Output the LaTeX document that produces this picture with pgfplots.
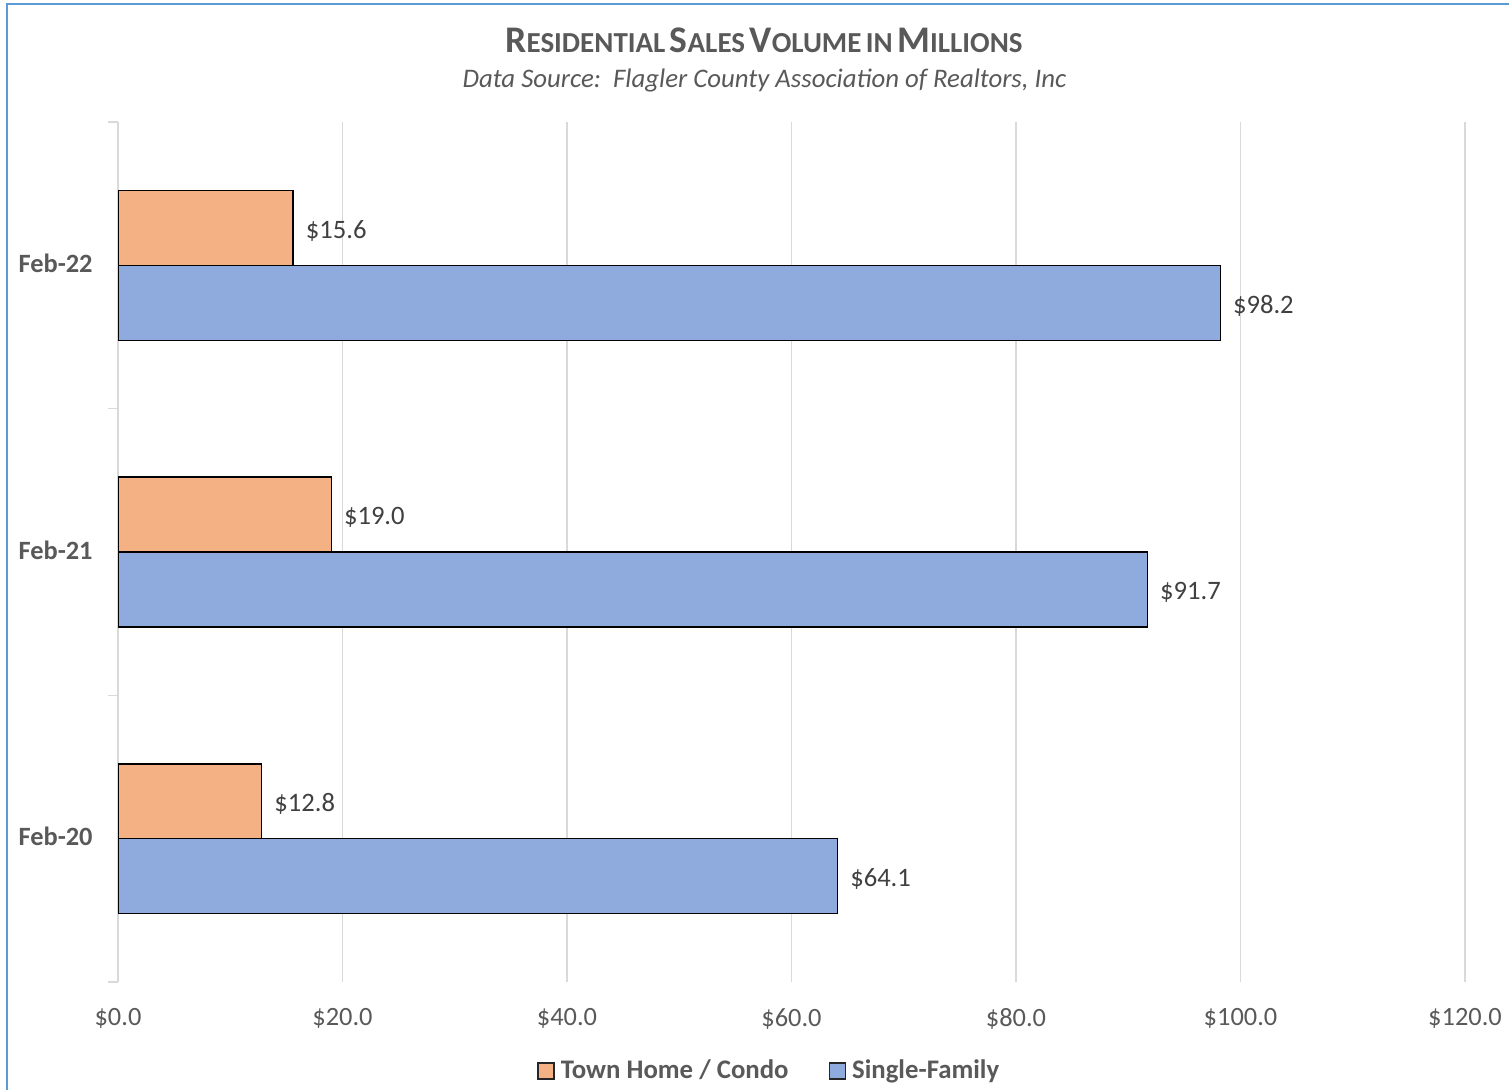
\documentclass[border=0pt]{standalone}
\usepackage{pgfplots}
\pgfplotsset{compat=1.18}
\usepackage{fontspec}
\setmainfont{Carlito}
\definecolor{orangeF}{HTML}{F4B183}
\definecolor{blueF}{HTML}{8FAADC}
\definecolor{txt}{HTML}{595959}
\definecolor{lbl}{HTML}{404040}
\definecolor{gridc}{HTML}{D9D9D9}
\definecolor{framec}{HTML}{5B9BD5}
\newcommand{\fsc}[2]{{\fontsize{18.8}{20}\selectfont #1}{\fontsize{14.5}{16}\selectfont #2}}
\begin{document}
\begin{tikzpicture}
\path[use as bounding box] (0,0) rectangle (754.5pt,544.5pt);
\begin{axis}[
  at={(59pt,53.5pt)}, anchor=south west,
  scale only axis, width=673.5pt, height=430pt,
  xbar, xmin=0, xmax=120, ymin=-0.5, ymax=2.5,
  bar width=0.2613,
  ytick={0,1,2}, yticklabels={Feb-20,Feb-21,Feb-22},
  minor ytick={-0.5,0.5,1.5,2.5},
  xtick={0,20,...,120},
  xticklabels={\$0.0,\$20.0,\$40.0,\$60.0,\$80.0,\$100.0,\$120.0},
  xmajorgrids, major grid style={draw=gridc, line width=0.75pt},
  axis line style={draw=none},
  tick pos=left, tick align=outside,
  major tick length=0pt, minor tick length=5pt,
  minor tick style={draw=gridc, line width=0.75pt},
  yticklabel style={font=\fontsize{13.2}{16}\selectfont\bfseries, text=txt, inner sep=0pt, xshift=-12.5pt, yshift=1pt},
  xticklabel style={font=\fontsize{13.2}{16}\selectfont, text=txt, inner sep=0pt, yshift=-13pt},
  nodes near coords={\$\pgfmathprintnumber[fixed,fixed zerofill,precision=1,assume math mode=true]{\pgfplotspointmeta}},
  every node near coord/.append style={anchor=west, inner sep=0pt, xshift=6pt, yshift=-1.5pt, text=lbl, font=\fontsize{13.3}{16}\selectfont},
  legend image code/.code={\draw[#1, draw=black!85, line width=0.75pt] (0pt,-4pt) rectangle (8pt,4pt);},
  legend style={at={(0.485,-0.1035)}, anchor=center, draw=none, legend columns=2,
    font=\fontsize{13.4}{16}\selectfont\bfseries, text=txt, inner sep=0pt,
    nodes={inner xsep=3pt, inner ysep=0pt},
    /tikz/every even column/.append style={column sep=17pt}},
]
\addplot[fill=orangeF, draw=black, line width=0.75pt, bar shift=0.1307] coordinates {(12.8,0) (19.0,1) (15.6,2)};
\addplot[fill=blueF, draw=black, line width=0.75pt, bar shift=-0.1307] coordinates {(64.1,0) (91.7,1) (98.2,2)};
\legend{Town Home / Condo, Single-Family}
\end{axis}
\node[anchor=base, text=txt, font=\bfseries, inner sep=0pt] at (382pt,518.3pt) {\fsc{R}{ESIDENTIAL} \fsc{S}{ALES} \fsc{V}{OLUME} {\fontsize{14.5}{16}\selectfont IN} \fsc{M}{ILLIONS}};
\node[anchor=base, text=txt, font=\fontsize{13.4}{16}\selectfont\itshape, inner sep=0pt] at (382.25pt,500.5pt) {Data Source:\ \ Flagler County Association of Realtors, Inc};
\draw[framec, line width=1.2pt] (3.5pt,-10pt) -- (3.5pt,542.5pt) -- (770pt,542.5pt);
\end{tikzpicture}
\end{document}
